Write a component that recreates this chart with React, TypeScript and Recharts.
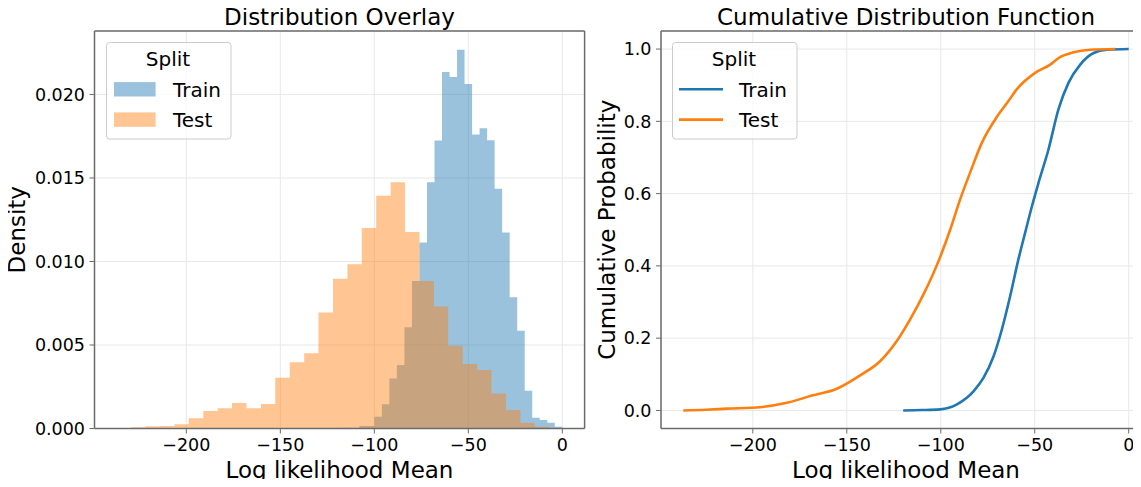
import React from "react";
import {
  ComposedChart,
  Area,
  Line,
  XAxis,
  YAxis,
  CartesianGrid,
  ReferenceLine,
  Legend,
} from "recharts";

const FONT = "'DejaVu Sans', Verdana, sans-serif";
const BLUE = "#1f77b4";
const ORANGE = "#ff7f0e";
const HIST_ALPHA = 0.45;
const SPINE = "#6b6b6b";
const GRID = "#e8e8e8";

// axes
const xTicks = [-200, -150, -100, -50, 0];
const xDomain: [number, number] = [-248.85, 11.85];
const densityTicks = [0, 0.005, 0.01, 0.015, 0.02];
const densityMax = 0.0238;
const probTicks = [0, 0.2, 0.4, 0.6, 0.8, 1.0];

// histogram bins (density)
const trainEdges = [
  -120, -116, -112, -108, -104, -100, -96, -92, -88, -84, -80, -76, -72, -68,
  -64, -60, -56, -52, -48, -44, -40, -36, -32, -28, -24, -20, -16, -12, -8, -4,
  0,
];
const trainDensity = [
  0.00005, 0.00005, 0.00005, 0.00015, 0.00015, 0.00071, 0.00145, 0.003, 0.0038,
  0.00606, 0.00883, 0.01113, 0.01475, 0.01724, 0.02135, 0.02104, 0.02267,
  0.02062, 0.0176, 0.01798, 0.01726, 0.01435, 0.01173, 0.00786, 0.00586,
  0.00226, 0.00065, 0.00051, 0.00035, 0.0001,
];
const testEdges = [
  -237, -229.3, -221.7, -214, -206.3, -198.7, -191, -183.3, -175.7, -168,
  -160.3, -152.7, -145, -137.3, -129.7, -122, -114.3, -106.7, -99, -91.3,
  -83.7, -76, -68.3, -60.7, -53, -45.3, -37.7, -30, -22.3, -14.7, -7,
];
const testDensity = [
  0.00002, 0.00007, 0.00013, 0.00015, 0.00025, 0.00061, 0.00105, 0.00121,
  0.00153, 0.00121, 0.00147, 0.00304, 0.00396, 0.0045, 0.00694, 0.00897,
  0.00983, 0.01201, 0.01393, 0.01475, 0.01177, 0.00883, 0.0073, 0.00496,
  0.00386, 0.0035, 0.0021, 0.00111, 0.00035, 0.0001,
];

const trainCdfX = [
  -120, -110, -100.3, -91.4, -82.6, -77.3, -71.9, -67.5, -63.1, -58.7, -55.1,
  -51.5, -48, -42.7, -37.4, -32, -25.8, -18.7, -11.6, 0,
];
const trainCdfP = [
  0, 0.001, 0.003, 0.017, 0.053, 0.09, 0.15, 0.224, 0.316, 0.418, 0.492, 0.565,
  0.63, 0.722, 0.833, 0.907, 0.957, 0.989, 0.998, 1.0,
];
const testCdfX = [
  -237, -225, -213.8, -196.1, -181.9, -168.6, -155.3, -142.9, -132.3, -123.4,
  -116.3, -109.2, -100.3, -95, -89.7, -84.4, -78.1, -70.2, -64, -59.5, -49.8,
  -41.8, -37.1, -29.4, -20.5, -7.2,
];
const testCdfP = [
  0, 0.002, 0.005, 0.009, 0.021, 0.041, 0.06, 0.097, 0.136, 0.192, 0.252,
  0.321, 0.425, 0.5, 0.584, 0.658, 0.741, 0.812, 0.856, 0.889, 0.934, 0.957,
  0.976, 0.991, 0.998, 1.0,
];

const splits = ["Train", "Test"];
const splitColor: Record<string, string> = { Train: BLUE, Test: ORANGE };

const histData = (edges: number[], dens: number[]) => [
  ...dens.map((d, i) => ({ x: edges[i], y: d })),
  { x: edges[edges.length - 1], y: 0 },
];
const cdfData = (xs: number[], ps: number[]) =>
  xs.map((x, i) => ({ x, y: ps[i] }));

const fmtX = (v: number) => (v < 0 ? "\u2212" + Math.abs(v) : String(v));

const tickStyle = { fill: "#000", fontSize: 17.5, fontFamily: FONT };
const LABEL_SIZE = 23;

function LegendBox({ kind }: { kind: "patch" | "line" }) {
  return (
    <svg width={126} height={98} style={{ display: "block" }}>
      <rect
        x={0.5}
        y={0.5}
        width={124.5}
        height={96.5}
        rx={3}
        fill="#fff"
        fillOpacity={0.8}
        stroke="#cccccc"
      />
      <text
        x={62}
        y={24}
        textAnchor="middle"
        fontFamily={FONT}
        fontSize={20}
        fill="#000"
      >
        Split
      </text>
      {splits.map((s, i) => {
        const cy = 47.3 + i * 30.3;
        return (
          <g key={s}>
            {kind === "patch" ? (
              <rect
                x={8}
                y={cy - 7.2}
                width={41.6}
                height={14.4}
                fill={splitColor[s]}
                fillOpacity={HIST_ALPHA}
              />
            ) : (
              <line
                x1={7}
                x2={51}
                y1={cy}
                y2={cy}
                stroke={splitColor[s]}
                strokeWidth={2.6}
              />
            )}
            <text
              x={67}
              y={cy + 7.4}
              fontFamily={FONT}
              fontSize={20}
              fill="#000"
            >
              {s}
            </text>
          </g>
        );
      })}
    </svg>
  );
}

export default function App() {
  const chartW = 600;
  const chartH = 487;
  const xAxisProps = {
    type: "number" as const,
    dataKey: "x",
    domain: xDomain,
    ticks: xTicks,
    allowDataOverflow: true,
    tickFormatter: fmtX,
    height: 58.5,
    tickSize: 5,
    tickMargin: 5,
    tick: tickStyle,
    axisLine: { stroke: SPINE, strokeWidth: 1.5 },
    tickLine: { stroke: SPINE },
  };

  return (
    <div
      style={{
        position: "relative",
        width: 1141,
        height: 487,
        margin: -8,
        overflow: "hidden",
        background: "#fff",
      }}
    >
      <div style={{ position: "absolute", left: 0, top: 0 }}>
        <ComposedChart
          width={chartW}
          height={chartH}
          margin={{ top: 31, right: 15.4, bottom: 0, left: 0 }}
        >
          <CartesianGrid stroke={GRID} strokeWidth={1} />
          <XAxis {...xAxisProps} />
          <YAxis
            type="number"
            domain={[0, densityMax]}
            ticks={densityTicks}
            allowDataOverflow
            width={94.5}
            tickFormatter={(v: number) => v.toFixed(3)}
            tickSize={5}
            tickMargin={4.5}
            tick={tickStyle}
            axisLine={{ stroke: SPINE, strokeWidth: 1.5 }}
            tickLine={{ stroke: SPINE }}
          />
          <Area
            name="Train"
            data={histData(trainEdges, trainDensity)}
            dataKey="y"
            type="stepAfter"
            stroke="none"
            fill={BLUE}
            fillOpacity={HIST_ALPHA}
            isAnimationActive={false}
            dot={false}
            activeDot={false}
          />
          <Area
            name="Test"
            data={histData(testEdges, testDensity)}
            dataKey="y"
            type="stepAfter"
            stroke="none"
            fill={ORANGE}
            fillOpacity={HIST_ALPHA}
            isAnimationActive={false}
            dot={false}
            activeDot={false}
          />
          <ReferenceLine y={densityMax} stroke={SPINE} strokeWidth={1.5} />
          <ReferenceLine x={xDomain[1]} stroke={SPINE} strokeWidth={1.5} />
          <Legend
            layout="vertical"
            align="center"
            verticalAlign="middle"
            wrapperStyle={{ left: 105.7, top: 41.7, width: 126, height: 98 }}
            content={() => <LegendBox kind="patch" />}
          />
        </ComposedChart>
      </div>

      <div style={{ position: "absolute", left: 600, top: 0 }}>
        <ComposedChart
          width={chartW}
          height={chartH}
          margin={{ top: 31, right: 49, bottom: 0, left: 0 }}
        >
          <CartesianGrid stroke={GRID} strokeWidth={1} />
          <XAxis {...xAxisProps} />
          <YAxis
            type="number"
            domain={[-0.05, 1.05]}
            ticks={probTicks}
            allowDataOverflow
            width={61}
            tickFormatter={(v: number) => v.toFixed(1)}
            tickSize={5}
            tickMargin={4.5}
            tick={tickStyle}
            axisLine={{ stroke: SPINE, strokeWidth: 1.5 }}
            tickLine={{ stroke: SPINE }}
          />
          <Line
            name="Train"
            data={cdfData(trainCdfX, trainCdfP)}
            dataKey="y"
            type="monotone"
            stroke={BLUE}
            strokeWidth={2.6}
            dot={false}
            activeDot={false}
            isAnimationActive={false}
          />
          <Line
            name="Test"
            data={cdfData(testCdfX, testCdfP)}
            dataKey="y"
            type="monotone"
            stroke={ORANGE}
            strokeWidth={2.6}
            dot={false}
            activeDot={false}
            isAnimationActive={false}
          />
          <ReferenceLine y={1.05} stroke={SPINE} strokeWidth={1.5} />
          <Legend
            layout="vertical"
            align="center"
            verticalAlign="middle"
            wrapperStyle={{ left: 72, top: 41.7, width: 126, height: 98 }}
            content={() => <LegendBox kind="line" />}
          />
        </ComposedChart>
      </div>

      <svg
        width={1141}
        height={487}
        style={{ position: "absolute", left: 0, top: 0, pointerEvents: "none" }}
        fontFamily={FONT}
        fill="#000"
      >
        <text x={339.5} y={25} textAnchor="middle" fontSize={LABEL_SIZE}>
          Distribution Overlay
        </text>
        <text x={906} y={25} textAnchor="middle" fontSize={LABEL_SIZE}>
          Cumulative Distribution Function
        </text>
        <text x={339.5} y={478} textAnchor="middle" fontSize={LABEL_SIZE}>
          Log likelihood Mean
        </text>
        <text x={906} y={478} textAnchor="middle" fontSize={LABEL_SIZE}>
          Log likelihood Mean
        </text>
        <text
          x={24.5}
          y={229.75}
          textAnchor="middle"
          fontSize={LABEL_SIZE}
          transform="rotate(-90 24.5 229.75)"
        >
          Density
        </text>
        <text
          x={615}
          y={229.75}
          textAnchor="middle"
          fontSize={LABEL_SIZE}
          transform="rotate(-90 615 229.75)"
        >
          Cumulative Probability
        </text>
      </svg>
    </div>
  );
}
